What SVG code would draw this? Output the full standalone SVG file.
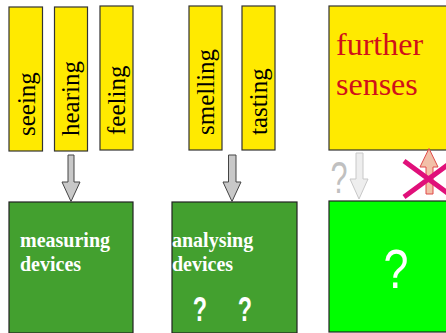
<svg xmlns="http://www.w3.org/2000/svg" width="446" height="333" viewBox="0 0 446 333">
<style>
.sense{fill:#ffea00;stroke:#333;stroke-width:1.2}
.dev{fill:#43a02f;stroke:#222;stroke-width:1.2}
.vt{font-family:"Liberation Serif",serif;font-size:25px;fill:#000}
.dt{font-family:"Liberation Serif",serif;font-size:20px;font-weight:bold;fill:#fff}
.arr{fill:#c8c8c8;stroke:#444;stroke-width:1}
</style>
<rect width="446" height="333" fill="#fff"/>
<g id="seeing"><rect class="sense" x="9" y="7" width="33.5" height="144"/><text class="vt" transform="translate(35,136) rotate(-90)">seeing</text></g>
<g id="hearing"><rect class="sense" x="54.5" y="7" width="33" height="144"/><text class="vt" transform="translate(79,136) rotate(-90)">hearing</text></g>
<g id="feeling"><rect class="sense" x="100" y="6" width="33" height="144"/><text class="vt" transform="translate(125,135) rotate(-90)">feeling</text></g>
<g id="smelling"><rect class="sense" x="189" y="6" width="33" height="144"/><text class="vt" transform="translate(214,135) rotate(-90)">smelling</text></g>
<g id="tasting"><rect class="sense" x="242" y="6" width="33" height="144"/><text class="vt" transform="translate(267,135) rotate(-90)">tasting</text></g>
<g id="further"><rect class="sense" x="329" y="6" width="130" height="144"/><text font-family="Liberation Serif,serif" font-size="32" fill="#d0101a"><tspan x="336" y="55">further</tspan><tspan x="336" y="95">senses</tspan></text></g>
<g id="measuring"><rect class="dev" x="9" y="202" width="124" height="131"/><text class="dt"><tspan x="20" y="247">measuring</tspan><tspan x="20" y="271">devices</tspan></text></g>
<g id="analysing"><rect class="dev" x="172" y="202" width="125" height="131"/><text class="dt"><tspan x="172" y="247">analysing</tspan><tspan x="172" y="271">devices</tspan></text>
<text font-family="Liberation Sans,sans-serif" font-weight="bold" font-size="36" fill="#fff" transform="translate(200,321) scale(0.65,1)" text-anchor="middle">?</text>
<text font-family="Liberation Sans,sans-serif" font-weight="bold" font-size="36" fill="#fff" transform="translate(245,321) scale(0.65,1)" text-anchor="middle">?</text></g>
<g id="unknown"><rect x="329" y="201" width="130" height="131" fill="#00ff00" stroke="#222" stroke-width="1.2"/><text font-family="Liberation Sans,sans-serif" font-size="56" fill="#fff" transform="translate(396,288) scale(0.8,1)" text-anchor="middle">?</text></g>
<g id="connectors">
<polygon class="arr" points="68,155 74,155 74,182 80,182 71,201.5 62,182 68,182"/>
<polygon class="arr" points="228.5,155 236,155 236,182 241,182 232,201.5 223,182 228.5,182"/>
<polygon points="356,153 363,153 363,179 368,179 359,199 350,179 356,179" fill="#eeeeee" stroke="#c8c8c8" stroke-width="1"/>
<text font-family="Liberation Sans,sans-serif" font-size="45" fill="#c0c0c0" transform="translate(339,193) scale(0.68,1)" text-anchor="middle">?</text>
<polygon points="426,194 433,194 433,167 438,167 429,148.5 420,167 426,167" fill="#f2c0a8" stroke="#e04848" stroke-width="1"/>
<path d="M404,161 L453,197 M404,197 L453,161" stroke="#e0107a" stroke-width="5" fill="none"/>
</g>
</svg>
